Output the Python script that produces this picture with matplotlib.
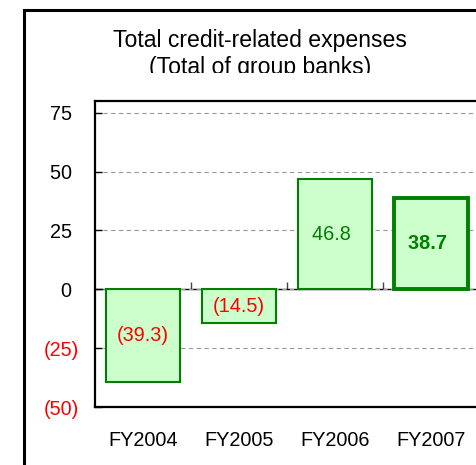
import matplotlib.pyplot as plt
from matplotlib.patches import Rectangle

plt.rcParams['font.family'] = ['Liberation Sans', 'DejaVu Sans']

# datos del grafico (los positivos llevan un espacio del ancho de ")" como en Excel)
anios = ['FY2004', 'FY2005', 'FY2006', 'FY2007']
gastos = [-39.3, -14.5, 46.8, 38.7]
etiquetas = ['(39.3)', '(14.5)', '46.8\u2004', '38.7\u2004']
y_ticks = [-50, -25, 0, 25, 50, 75]
y_etiquetas = ['(50)', '(25)', '0\u2004', '25\u2004', '50\u2004', '75\u2004']

verde = '#008000'
relleno = '#CCFFCC'
rojo = '#FF0000'

fig = plt.figure(figsize=(4.76, 4.65), dpi=100)

# marco exterior (recortado a la derecha y abajo)
arriba = (465 - 10.5) / 465
fig.patches.append(Rectangle((23.5 / 476, -0.2), 1.2, arriba + 0.2,
                             transform=fig.transFigure, fill=False,
                             edgecolor='black', linewidth=2.2, zorder=1))

# titulo en dos lineas, la segunda cortada por abajo
fig.text(0.547, (465 - 47) / 465, 'Total credit-related expenses',
         ha='center', va='baseline', fontsize=16.6, zorder=3)
fig.text(0.547, (465 - 74) / 465, '(Total of group banks)',
         ha='center', va='baseline', fontsize=16.6, zorder=3)
fig.patches.append(Rectangle((30 / 476, (465 - 99) / 465), 0.95, 26 / 465,
                             transform=fig.transFigure, facecolor='white',
                             edgecolor='none', zorder=5))

ax = fig.add_axes([95 / 476, 58 / 465, 384 / 476, (407 - 101) / 465])
ax.set_xlim(-0.5, 3.5)
ax.set_ylim(-50, 80)

x = range(len(anios))
barras = ax.bar(x, gastos, width=0.78, color=relleno, edgecolor=verde,
                linewidth=1.5, zorder=3)
barras[3].set_linewidth(2.8)

textos = ax.bar_label(barras, labels=etiquetas, label_type='center', fontsize=14.3)
for t, v in zip(textos, gastos):
    t.set_color(rojo if v < 0 else verde)
textos[3].set_fontweight('bold')

# lineas de cuadricula y linea cero
ax.set_yticks(y_ticks)
ax.set_yticklabels(y_etiquetas, fontsize=14.3)
for lbl, v in zip(ax.get_yticklabels(), y_ticks):
    lbl.set_color(rojo if v < 0 else 'black')
ax.yaxis.grid(True, linestyle=(0, (4, 3)), color='#999999', linewidth=0.8)
ax.set_axisbelow(True)
ax.tick_params(axis='y', direction='in', length=5, width=1, pad=11.7)

ax.set_xticks(list(x))
ax.set_xticklabels(anios, fontsize=14.3)
ax.tick_params(axis='x', length=0, pad=17)

cero = ax.secondary_xaxis(50 / 130)
cero.set_xticks([0.5, 1.5, 2.5])
cero.tick_params(direction='in', length=5, width=1, labelbottom=False,
                 color='#444444')
cero.spines['bottom'].set_linewidth(1)

for lado in ['left', 'top', 'bottom']:
    ax.spines[lado].set_linewidth(1.6)

plt.savefig('out.png', dpi=100)
